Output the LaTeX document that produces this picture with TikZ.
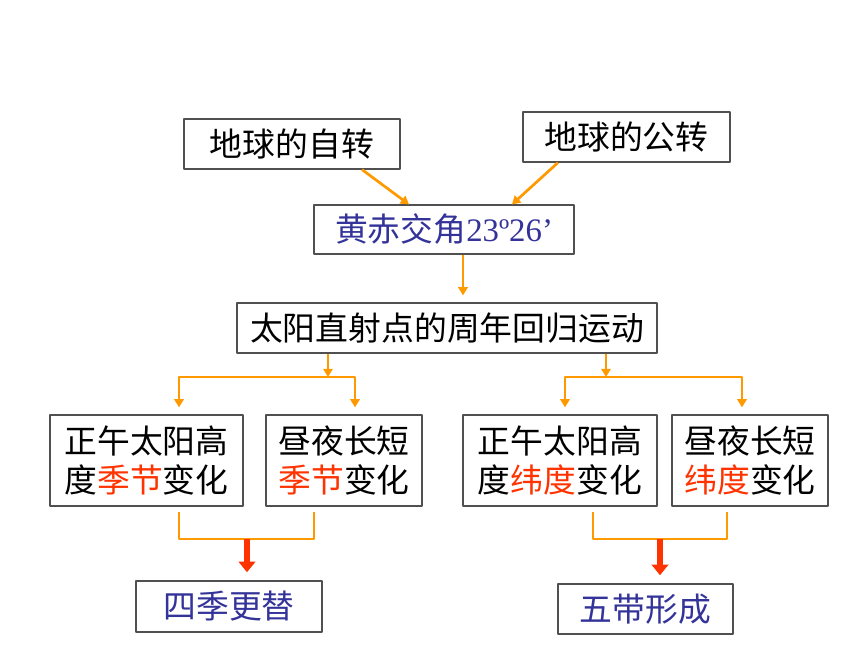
\documentclass[tikz,border=0pt]{standalone}
\usepackage{fontspec}
\newfontfamily\cjk{Noto Sans CJK SC}
\newfontfamily\tnr{Liberation Serif}
\usetikzlibrary{arrows.meta}
\definecolor{lineorange}{HTML}{FF9900}
\definecolor{textblue}{HTML}{333399}
\definecolor{textred}{HTML}{FF3300}
\definecolor{boxgray}{HTML}{505050}
\tikzset{
	box/.style={draw=boxgray, line width=1pt, fill=white, inner sep=0pt, align=center, font=\cjk\fontsize{28}{33}\selectfont},
	link/.style={draw=lineorange, line width=2.3pt},
	push/.style={draw=textred, line width=4.5pt, -{Triangle[length=9pt,width=14pt]}},
}
\newcommand{\hl}[1]{\textcolor{textred}{#1}}

\begin{document}
\begin{tikzpicture}[x=0.03cm, y=-0.03cm, line join=round, >={Triangle[length=7pt,width=8pt]}]
	\useasboundingbox (0,0) rectangle (860,645);
	
	\path 
		(362,0) coordinate (zzOut)
		(409,0) coordinate (hcInL)
		(558,0) coordinate (gzOut)
		(512,0) coordinate (hcInR)
		(463,0) coordinate (hcOut)
		(328,377) coordinate (forkL)
		(606,377) coordinate (forkR)
		(179,0) coordinate (colA)
		(355,0) coordinate (colB)
		(314,0) coordinate (colB2)
		(565,0) coordinate (colC)
		(742,0) coordinate (colD)
		(593,0) coordinate (colC2)
		(727,0) coordinate (colD2)
		(247,539) coordinate (mergeL)
		(660,539) coordinate (mergeR)
	;
	
	\node[box, minimum width=6.48cm, minimum height=1.5cm] (zizhuan) at (292,144) {地球的自转};
	\node[box, minimum width=6.21cm, minimum height=1.5cm] (gongzhuan) at (626.5,137) {地球的公转};
	\node[box, minimum width=7.8cm, minimum height=1.47cm] (huangchi) at (444,229.5) {\color{textblue}黄赤交角{\tnr 23º26’}};
	\node[box, minimum width=12.6cm, minimum height=1.5cm] (zhishe) at (447,328) {太阳直射点的周年回归运动};
	
	\node[box, minimum width=5.79cm, minimum height=2.73cm] (gaodu1) at (146.5,460.5) {正午太阳高\\度\hl{季节}变化};
	\node[box, minimum width=4.68cm, minimum height=2.73cm] (zhouye1) at (344,460.5) {昼夜长短\\\hl{季节}变化};
	\node[box, minimum width=5.82cm, minimum height=2.73cm] (gaodu2) at (560,460.5) {正午太阳高\\度\hl{纬度}变化};
	\node[box, minimum width=4.68cm, minimum height=2.73cm] (zhouye2) at (750,460.5) {昼夜长短\\\hl{纬度}变化};
	
	\node[box, minimum width=5.58cm, minimum height=1.53cm] (siji) at (229,606.5) {\color{textblue}四季更替};
	\node[box, minimum width=5.25cm, minimum height=1.5cm] (wudai) at (645.5,609) {\color{textblue}五带形成};
	
	\draw[link, ->] (zizhuan.south -| zzOut) -- (huangchi.north -| hcInL);
	\draw[link, ->] (gongzhuan.south -| gzOut) -- (huangchi.north -| hcInR);
	\draw[link, ->, shorten >=6pt] (huangchi.south -| hcOut) -- (zhishe.north -| hcOut);
	
	\draw[link, ->] (zhishe.south -| forkL) -- (forkL);
	\draw[link, ->] (zhishe.south -| forkR) -- (forkR);
	\draw[link, <->, shorten <=6pt, shorten >=6pt] (gaodu1.north -| colA) |- (forkL) -| (zhouye1.north -| colB);
	\draw[link, <->, shorten <=6pt, shorten >=6pt] (gaodu2.north -| colC) |- (forkR) -| (zhouye2.north -| colD);
	
	\draw[link, shorten <=5pt, shorten >=5pt] (gaodu1.south -| colA) |- (mergeL) -| (zhouye1.south -| colB2);
	\draw[link, shorten <=5pt, shorten >=5pt] (gaodu2.south -| colC2) |- (mergeR) -| (zhouye2.south -| colD2);
	\draw[push, shorten >=7pt] (mergeL) -- (siji.north -| mergeL);
	\draw[push, shorten >=7pt] (mergeR) -- (wudai.north -| mergeR);
\end{tikzpicture}
\end{document}
